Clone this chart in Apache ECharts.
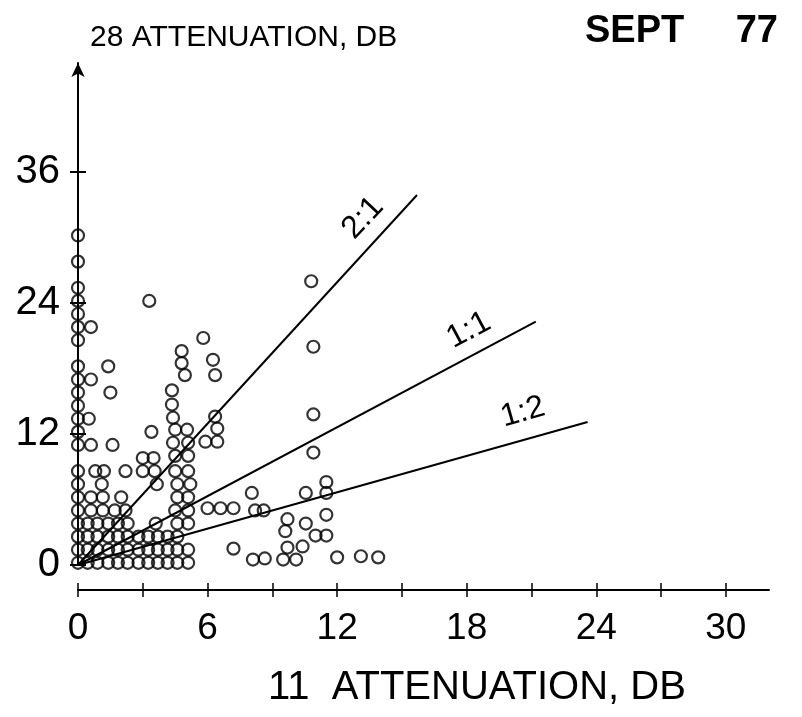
<!DOCTYPE html>
<html>
<head>
	<meta charset="utf-8"/>
	<title>28 vs 11 attenuation</title>
	<style>
		* {
			margin: 0;
			padding: 0;
		}
		html, body {
			background: #fff;
		}
		.main {
			width: 802px;
			height: 717px;
		}
	</style>
</head>
<body>

	<div id="main" class="main"></div>

	<script src="https://cdn.jsdelivr.net/npm/echarts@6/dist/echarts.min.js"></script>
	<script>
		// tick marks / labels
		var xTicks = [0, 3, 6, 9, 12, 15, 18, 21, 24, 27, 30];
		var xLabels = [0, 6, 12, 18, 24, 30];
		var yTicks = [0, 12, 24, 36];

		// points sitting on the 28 axis (11 attenuation = 0)
		var axisColumnY = [30.2, 27.8, 25.4, 24.2, 23.0, 21.8, 20.6, 18.2, 17.0, 15.8, 14.6, 13.4,
			12.2, 11.0, 8.6, 7.4, 6.2, 5.0, 3.8, 2.6, 1.4, 0.2];

		// dense block near the origin, one list of x per row
		var clusterRowY = [0.2, 1.4, 2.6, 3.8, 5.0, 6.2, 7.4, 8.6];
		var clusterRowX = [
			[0.45, 0.9, 1.4, 1.85, 2.3, 2.8, 3.25, 3.7, 4.15, 4.6, 5.1],
			[0.45, 0.9, 1.4, 1.85, 2.3, 2.8, 3.25, 3.7, 4.15, 4.6, 5.1],
			[0.45, 0.9, 1.4, 1.85, 2.3, 2.8, 3.25, 3.7, 4.15, 4.6],
			[0.45, 0.9, 1.4, 1.85, 2.3, 3.6, 4.6, 5.1],
			[0.6, 1.15, 1.7, 2.2, 4.5, 5.1],
			[0.6, 1.15, 2.0, 4.6, 5.1],
			[1.1, 3.65, 4.6, 5.2],
			[0.8, 1.2, 2.2, 3.0, 3.55, 4.5, 5.1]
		];

		// the rest, [11 GHz dB, 28 GHz dB]
		var scatteredPts = [
			[0.6, 21.8], [0.6, 17.0], [0.5, 13.4], [0.6, 11.0], [1.4, 18.2], [1.5, 15.8], [1.6, 11.0],
			[3.3, 24.2], [3.4, 12.2], [3.0, 9.8], [3.5, 9.8],
			[4.35, 16.0], [4.35, 14.7], [4.4, 13.5], [4.5, 12.4], [5.05, 12.4], [4.4, 11.2], [5.1, 11.2],
			[4.5, 10.0], [5.1, 10.0],
			[4.8, 19.6], [4.8, 18.5], [4.95, 17.4], [5.8, 20.8], [6.25, 18.8], [6.35, 17.4],
			[6.35, 13.6], [6.45, 12.5], [5.9, 11.3], [6.45, 11.3],
			[6.0, 5.2], [6.6, 5.2], [7.2, 5.2], [8.05, 6.6], [8.2, 5.0], [8.6, 5.0], [7.2, 1.5],
			[8.1, 0.5], [8.65, 0.6], [9.5, 0.5], [10.1, 0.5], [9.7, 1.6], [10.4, 1.7], [9.6, 3.1],
			[9.7, 4.2], [10.55, 3.8], [11.0, 2.7], [11.5, 2.7], [11.5, 4.6], [10.55, 6.6], [11.5, 6.6],
			[11.5, 7.6], [10.9, 10.3], [10.9, 13.8], [10.9, 20.0], [10.8, 26.0],
			[12.0, 0.7], [13.1, 0.8], [13.9, 0.7]
		];

		// ratio lines, drawn from the origin to their end
		var ratioNames = ['2:1', '1:1', '1:2'];
		var ratioEnds = [[15.7, 33.9], [21.2, 22.3], [23.6, 13.1]];
		var ratioLabelAt = [[13.2, 31.8], [18.1, 21.5], [20.6, 14.0]];
		var ratioLabelAngle = [47, 28, 16];

		var font = "'Liberation Sans', Arial, sans-serif";

		var points = axisColumnY.map(function (y) { return [0, y]; });
		clusterRowY.forEach(function (y, i) {
			clusterRowX[i].forEach(function (x) { points.push([x, y]); });
		});
		points = points.concat(scatteredPts);

		var myChart = echarts.init(document.getElementById('main'), null, { renderer: 'canvas' });

		function xAxisDef(inner) {
			return {
				type: 'value',
				min: 0,
				max: 32,
				position: 'bottom',
				offset: 25,
				axisLine: { show: !inner, onZero: false, lineStyle: { color: '#000', width: 2 } },
				axisTick: { show: true, inside: inner, length: 7, customValues: xTicks, lineStyle: { color: '#000', width: 1.5 } },
				axisLabel: { show: !inner, customValues: xLabels, fontSize: 37, fontFamily: font, color: '#000', margin: 20 },
				splitLine: { show: false }
			};
		}

		function yAxisDef(inner) {
			return {
				type: 'value',
				min: 0,
				max: 46,
				position: 'left',
				offset: 0,
				axisLine: {
					show: !inner, onZero: false,
					symbol: ['none', 'arrow'], symbolSize: [10, 14],
					lineStyle: { color: '#000', width: 2 }
				},
				axisTick: { show: true, inside: inner, length: 8, customValues: yTicks, lineStyle: { color: '#000', width: 2 } },
				axisLabel: { show: !inner, customValues: yTicks, fontSize: 40, fontFamily: font, color: '#000', margin: 18 },
				splitLine: { show: false }
			};
		}

		var series = [{
			type: 'scatter',
			data: points,
			symbol: 'circle',
			symbolSize: 12,
			itemStyle: { color: 'rgba(0,0,0,0)', borderColor: '#000', borderWidth: 2.2 },
			silent: true,
			z: 3
		}];

		ratioEnds.forEach(function (end, i) {
			series.push({
				type: 'line',
				name: ratioNames[i],
				data: [[0, 0], end],
				showSymbol: false,
				lineStyle: { color: '#000', width: 2 },
				silent: true,
				z: 2
			});
		});

		series.push({
			type: 'scatter',
			symbolSize: 1,
			itemStyle: { color: 'rgba(0,0,0,0)' },
			silent: true,
			data: ratioLabelAt.map(function (p, i) {
				return {
					value: p,
					label: {
						show: true,
						position: 'inside',
						formatter: ratioNames[i],
						rotate: ratioLabelAngle[i],
						fontSize: 32,
						fontFamily: font,
						color: '#000',
						opacity: 1,
						textBorderWidth: 0
					}
				};
			}),
			z: 4
		});

		var option = {
			animation: false,
			backgroundColor: '#fff',
			grid: {
				left: 78,
				right: 33,
				top: 63,
				bottom: 152,
				outerBoundsMode: 'none'
			},
			xAxis: [xAxisDef(false), xAxisDef(true)],
			yAxis: [yAxisDef(false), yAxisDef(true)],
			series: series,
			graphic: [
				{
					type: 'text', x: 90, y: 38,
					style: { text: '28 ATTENUATION, DB', font: '30px ' + font, fill: '#000', verticalAlign: 'middle' }
				},
				{
					type: 'text', x: 585, y: 32,
					style: { text: 'SEPT', font: 'bold 38px ' + font, fill: '#000', verticalAlign: 'middle' }
				},
				{
					type: 'text', x: 778, y: 32,
					style: { text: '77', font: 'bold 38px ' + font, fill: '#000', align: 'right', verticalAlign: 'middle' }
				},
				{
					type: 'text', x: 268, y: 688,
					style: { text: '11  ATTENUATION, DB', font: '40px ' + font, fill: '#000', verticalAlign: 'middle' }
				}
			]
		};

		myChart.setOption(option);
	</script>
</body>
</html>
